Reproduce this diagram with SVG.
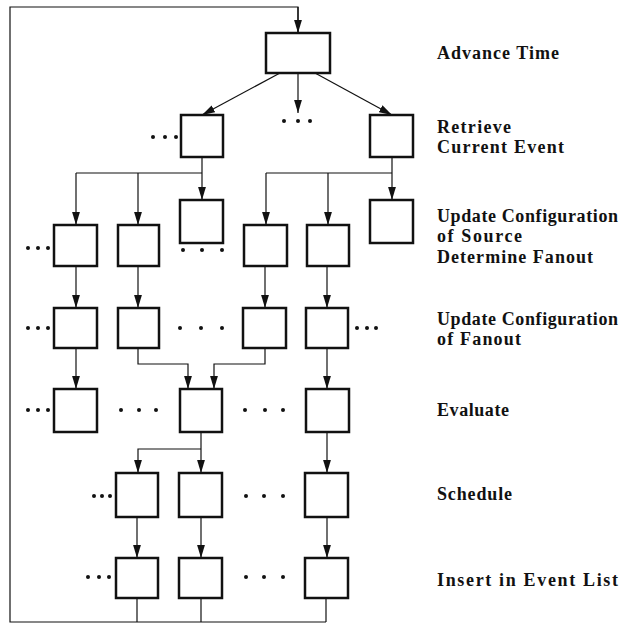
<svg xmlns="http://www.w3.org/2000/svg" width="630" height="625" viewBox="0 0 630 625">
<defs>
<style>
.box{fill:#fff;stroke:#111;stroke-width:2.5}
.c{fill:none;stroke:#111;stroke-width:1.2}
.a{marker-end:url(#ah)}
.d{fill:#111}
.t{font-family:"Liberation Serif","DejaVu Serif",serif;font-size:18px;font-weight:bold;fill:#111}
</style>
<marker id="ah" markerUnits="userSpaceOnUse" markerWidth="14" markerHeight="9" refX="13" refY="4.5" orient="auto">
<path d="M0,0.6 L13,4.5 L0,8.4 z" fill="#111"/>
</marker>
</defs>
<rect width="630" height="625" fill="#fff"/>

<g id="connectors">
<path class="c" d="M137,598 V622 M201,598 V622 M326,598 V622 M326,622 H10 V7 H298 V33" />
<path class="c a" d="M298,7 V33"/>
<path class="c a" d="M280,73 L202,115"/>
<path class="c a" d="M298,73 V113"/>
<path class="c a" d="M315,73 L392,115"/>
<path class="c a" d="M202,157 V200"/>
<path class="c" d="M202,173 H76"/>
<path class="c a" d="M76,173 V225"/>
<path class="c a" d="M138,173 V225"/>
<path class="c a" d="M392,157 V200"/>
<path class="c" d="M392,173 H266"/>
<path class="c a" d="M266,173 V225"/>
<path class="c a" d="M328,173 V225"/>
<path class="c a" d="M76,266 V308"/>
<path class="c a" d="M138,266 V308"/>
<path class="c a" d="M265,266 V308"/>
<path class="c a" d="M327,266 V308"/>
<path class="c a" d="M76,348 V389"/>
<path class="c a" d="M138,348 V364 H188 V389"/>
<path class="c a" d="M265,348 V364 H214 V389"/>
<path class="c a" d="M327,348 V389"/>
<path class="c a" d="M201,432 V473"/>
<path class="c a" d="M201,449 H138 V473"/>
<path class="c a" d="M327,432 V473"/>
<path class="c a" d="M137,517 V558"/>
<path class="c a" d="M201,517 V558"/>
<path class="c a" d="M327,517 V558"/>
</g>

<g id="n-top"><rect class="box" x="266" y="33" width="64" height="40"/></g>
<g id="n2a"><rect class="box" x="181" y="115" width="42" height="42"/></g>
<g id="n2b"><rect class="box" x="370" y="115" width="43" height="42"/></g>

<g id="n3a"><rect class="box" x="54" y="225" width="43" height="41"/></g>
<g id="n3b"><rect class="box" x="118" y="225" width="41" height="41"/></g>
<g id="n3c"><rect class="box" x="180" y="200" width="43" height="43"/></g>
<g id="n3d"><rect class="box" x="244" y="225" width="43" height="41"/></g>
<g id="n3e"><rect class="box" x="307" y="225" width="42" height="41"/></g>
<g id="n3f"><rect class="box" x="370" y="200" width="43" height="43"/></g>

<g id="n4a"><rect class="box" x="54" y="308" width="43" height="40"/></g>
<g id="n4b"><rect class="box" x="118" y="308" width="41" height="40"/></g>
<g id="n4c"><rect class="box" x="243" y="308" width="43" height="40"/></g>
<g id="n4d"><rect class="box" x="306" y="308" width="42" height="40"/></g>

<g id="n5a"><rect class="box" x="54" y="389" width="43" height="43"/></g>
<g id="n5b"><rect class="box" x="180" y="389" width="42" height="43"/></g>
<g id="n5c"><rect class="box" x="306" y="389" width="43" height="43"/></g>

<g id="n6a"><rect class="box" x="116" y="473" width="42" height="44"/></g>
<g id="n6b"><rect class="box" x="179" y="473" width="43" height="44"/></g>
<g id="n6c"><rect class="box" x="305" y="473" width="43" height="44"/></g>

<g id="n7a"><rect class="box" x="116" y="558" width="42" height="40"/></g>
<g id="n7b"><rect class="box" x="179" y="558" width="43" height="40"/></g>
<g id="n7c"><rect class="box" x="305" y="558" width="43" height="40"/></g>

<g id="ellipses" class="d">
<circle cx="153" cy="137" r="2"/><circle cx="165" cy="137" r="2"/><circle cx="176" cy="137" r="2"/>
<circle cx="284" cy="121" r="2"/><circle cx="298" cy="121" r="2"/><circle cx="310" cy="121" r="2"/>
<circle cx="28" cy="248" r="2"/><circle cx="38" cy="248" r="2"/><circle cx="48" cy="248" r="2"/>
<circle cx="183" cy="250" r="2"/><circle cx="202" cy="250" r="2"/><circle cx="222" cy="250" r="2"/>
<circle cx="28" cy="328" r="2"/><circle cx="38" cy="328" r="2"/><circle cx="48" cy="328" r="2"/>
<circle cx="180" cy="328" r="2"/><circle cx="201" cy="328" r="2"/><circle cx="222" cy="328" r="2"/>
<circle cx="357" cy="328" r="2"/><circle cx="367" cy="328" r="2"/><circle cx="376" cy="328" r="2"/>
<circle cx="28" cy="410" r="2"/><circle cx="38" cy="410" r="2"/><circle cx="48" cy="410" r="2"/>
<circle cx="121" cy="410" r="2"/><circle cx="139" cy="410" r="2"/><circle cx="156" cy="410" r="2"/>
<circle cx="245" cy="410" r="2"/><circle cx="265" cy="410" r="2"/><circle cx="283" cy="410" r="2"/>
<circle cx="94" cy="496" r="2"/><circle cx="102" cy="496" r="2"/><circle cx="110" cy="496" r="2"/>
<circle cx="246" cy="496" r="2"/><circle cx="264" cy="496" r="2"/><circle cx="283" cy="496" r="2"/>
<circle cx="88" cy="577" r="2"/><circle cx="99" cy="577" r="2"/><circle cx="109" cy="577" r="2"/>
<circle cx="246" cy="577" r="2"/><circle cx="264" cy="577" r="2"/><circle cx="283" cy="577" r="2"/>
</g>

<g id="labels" class="t">
<text x="437" y="59" textLength="122" lengthAdjust="spacing">Advance Time</text>
<text x="437" y="133" textLength="74" lengthAdjust="spacing">Retrieve</text>
<text x="437" y="153" textLength="127" lengthAdjust="spacing">Current Event</text>
<text x="437" y="222" textLength="181" lengthAdjust="spacing">Update Configuration</text>
<text x="437" y="242" textLength="85" lengthAdjust="spacing">of Source</text>
<text x="437" y="263" textLength="156" lengthAdjust="spacing">Determine Fanout</text>
<text x="437" y="325" textLength="181" lengthAdjust="spacing">Update Configuration</text>
<text x="437" y="345" textLength="84" lengthAdjust="spacing">of Fanout</text>
<text x="437" y="416" textLength="72" lengthAdjust="spacing">Evaluate</text>
<text x="437" y="500" textLength="75" lengthAdjust="spacing">Schedule</text>
<text x="437" y="586" textLength="181" lengthAdjust="spacing">Insert in Event List</text>
</g>
</svg>
